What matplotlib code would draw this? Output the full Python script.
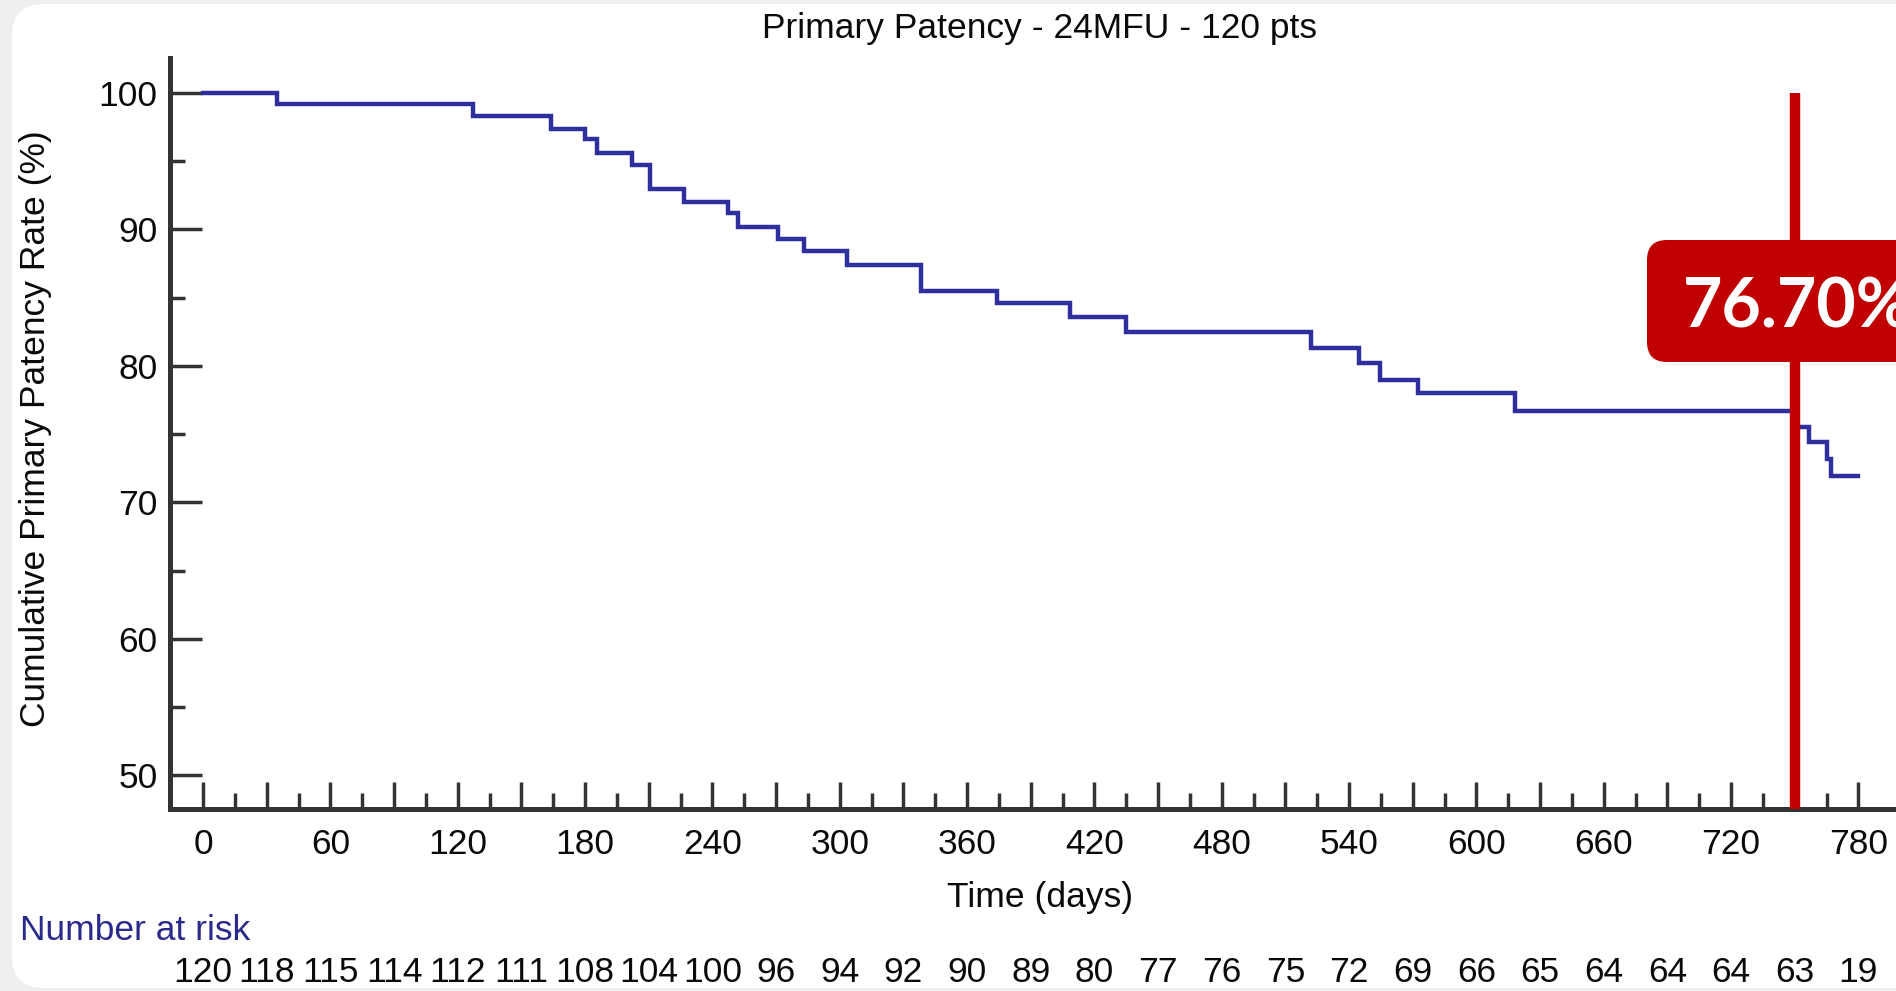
import matplotlib
matplotlib.use('Agg')
import matplotlib.pyplot as plt
from matplotlib.patches import FancyBboxPatch
from matplotlib.transforms import IdentityTransform, blended_transform_factory

# Kaplan-Meier curve (day of event, patency after it)
event_days = [0, 34.6, 127, 164, 180, 185.6, 202, 210.4, 226.4, 247.5, 252, 271,
              283, 303.5, 338.3, 374, 408.3, 435, 522, 544.5, 554.4, 572.4, 618,
              749, 756.7, 765.3, 766.9]
patency_pct = [100, 99.2, 98.3, 97.4, 96.6, 95.6, 94.7, 93.0, 92.0, 91.2, 90.2, 89.3,
               88.4, 87.4, 85.5, 84.6, 83.6, 82.5, 81.3, 80.2, 79.0, 78.0, 76.7,
               75.5, 74.4, 73.2, 71.9]
last_follow_up = 780

# Number at risk table
at_risk_days = [0, 30, 60, 90, 120, 150, 180, 210, 240, 270, 300, 330, 360, 390,
                420, 450, 480, 510, 540, 570, 600, 630, 660, 690, 720, 750, 780]
at_risk_counts = [120, 118, 115, 114, 112, 111, 108, 104, 100, 96, 94, 92, 90, 89,
                  80, 77, 76, 75, 72, 69, 66, 65, 64, 64, 64, 63, 19]

# Axis ticks
x_major_ticks = at_risk_days
x_minor_ticks = [15, 45, 75, 105, 135, 165, 195, 225, 255, 285, 315, 345, 375, 405,
                 435, 465, 495, 525, 555, 585, 615, 645, 675, 705, 735, 765]
y_major_ticks = [50, 60, 70, 80, 90, 100]
y_minor_ticks = [55, 65, 75, 85, 95]

# Highlighted time point
marker_day = 750
marker_label = '76.70%'

TITLE = 'Primary Patency - 24MFU - 120 pts'
W, H = 1896, 991
FONT = ['Liberation Sans', 'DejaVu Sans']
FS = 25.5
CURVE_COLOR = '#2e2e9c'
RED = '#c00000'
AXIS_COLOR = '#333333'
TEXT_COLOR = '#0a0a0a'


def fx(px):
    return px / W


def fy(px_from_top):
    return 1 - px_from_top / H


def draw_background(fig):
    fig.patch.set_facecolor('#efefef')
    panel = FancyBboxPatch((12, 3), W + 60, H - 7,
                           boxstyle='round,pad=0,rounding_size=32',
                           transform=IdentityTransform(),
                           facecolor='white', edgecolor='none', zorder=-10)
    fig.add_artist(panel)


def style_axes(ax):
    ax.set_facecolor('none')
    ax.set_xlim(-15.6, 797.7)
    ax.set_ylim(47.52, 102.57)
    for side in ['top', 'right']:
        ax.spines[side].set_visible(False)
    for side in ['left', 'bottom']:
        ax.spines[side].set_linewidth(3.6)
        ax.spines[side].set_color(AXIS_COLOR)

    ax.set_xticks(x_major_ticks)
    ax.set_xticklabels([str(d) if d % 60 == 0 else '' for d in x_major_ticks])
    ax.set_xticks(x_minor_ticks, minor=True)
    ax.set_yticks(y_major_ticks)
    ax.set_yticklabels([str(v) for v in y_major_ticks])
    ax.set_yticks(y_minor_ticks, minor=True)

    ax.tick_params(axis='x', which='major', direction='in', length=19.7, width=2.5,
                   pad=14, labelsize=FS, colors=AXIS_COLOR, labelcolor=TEXT_COLOR)
    ax.tick_params(axis='x', which='minor', direction='in', length=11.7, width=2.5,
                   colors=AXIS_COLOR)
    ax.tick_params(axis='y', which='major', direction='in', length=22.8, width=2.5,
                   pad=9, labelsize=FS, colors=AXIS_COLOR, labelcolor=TEXT_COLOR)
    ax.tick_params(axis='y', which='minor', direction='in', length=11, width=2.5,
                   colors=AXIS_COLOR)
    for lbl in ax.get_xticklabels() + ax.get_yticklabels():
        lbl.set_family(FONT)


def main():
    plt.rcParams['font.family'] = FONT

    fig = plt.figure(figsize=(W / 100, H / 100), dpi=100)
    draw_background(fig)

    # 1. Axes placed so the spines sit where they do in the reference
    ax = fig.add_axes([fx(170), fy(809), 1 - fx(170), fy(58) - fy(809)])
    style_axes(ax)

    # 2. Step curve
    ax.step(event_days + [last_follow_up], patency_pct + [patency_pct[-1]],
            where='post', color=CURVE_COLOR, linewidth=3.2,
            solid_joinstyle='miter', zorder=3)

    # 3. Red marker line at the follow-up point
    ax.plot([marker_day, marker_day], [ax.get_ylim()[0], 100], color=RED,
            linewidth=7.5, solid_capstyle='butt', zorder=4)

    # 4. Labels
    fig.text(fx(1040), fy(38), TITLE, ha='center', va='baseline', fontsize=FS,
             color=TEXT_COLOR)
    fig.text(fx(36), fy(429), 'Cumulative Primary Patency Rate (%)', rotation=90,
             ha='center', va='center', fontsize=FS, color=TEXT_COLOR)
    fig.text(fx(1040), fy(907), 'Time (days)', ha='center', va='baseline',
             fontsize=FS, color=TEXT_COLOR)
    fig.text(fx(20), fy(940), 'Number at risk', ha='left', va='baseline',
             fontsize=FS, color='#2a2a8c')

    # 5. Number at risk row, aligned to the time axis
    row = blended_transform_factory(ax.transData, fig.transFigure)
    for day, n in zip(at_risk_days, at_risk_counts):
        ax.text(day, fy(982), str(n), transform=row, ha='center', va='baseline',
                fontsize=FS, color=TEXT_COLOR, clip_on=False)

    # 6. Value badge
    badge = FancyBboxPatch((1647, H - 362), 400, 122,
                           boxstyle='round,pad=0,rounding_size=20',
                           transform=IdentityTransform(),
                           facecolor=RED, edgecolor='none', zorder=5)
    fig.add_artist(badge)
    fig.text(fx(1683), fy(327), marker_label, ha='left', va='baseline',
             fontsize=49, fontweight='bold', color='white',
             family=['Lato', 'DejaVu Sans'], zorder=6)

    fig.savefig('out.png', dpi=100, facecolor=fig.get_facecolor())
    plt.close(fig)


if __name__ == '__main__':
    main()
